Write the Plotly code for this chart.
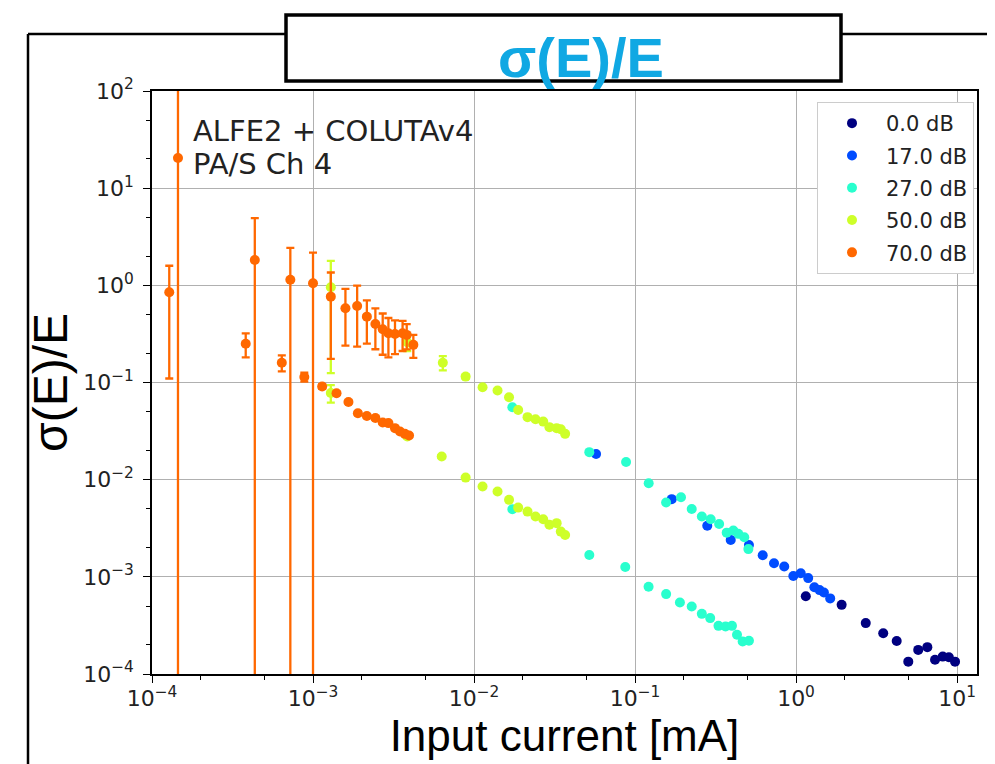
import plotly.graph_objects as go

# ---------------- data ----------------
gains = ["0.0 dB", "17.0 dB", "27.0 dB", "50.0 dB", "70.0 dB"]
colors = ["#000080", "#004cff", "#29ffce", "#ceff29", "#ff6800"]

x_0db = [1.15, 1.92, 2.71, 3.48, 4.22, 4.98, 5.74, 6.54, 7.3, 8.15, 8.9, 9.72]
y_0db = [0.00063, 0.000515, 0.000334, 0.000263, 0.000219, 0.000134, 0.000177,
         0.000189, 0.00014, 0.000151, 0.000149, 0.000134]
e_0db = [0.0] * 12

x_17db = [0.0573, 0.169, 0.281, 0.393, 0.51, 0.621, 0.73, 0.845, 0.962, 1.07,
          1.19, 1.30, 1.40, 1.49, 1.63]
y_17db = [0.0184, 0.0063, 0.00335, 0.0024, 0.00213, 0.00167, 0.00138, 0.00128,
          0.00102, 0.00109, 0.00097, 0.00078, 0.00073, 0.00069, 0.0006]
e_17db = [0.0] * 15

x_27db = [0.0173, 0.0173, 0.052, 0.052, 0.088, 0.087, 0.1216, 0.1214, 0.156, 0.156,
          0.193, 0.19, 0.225, 0.225, 0.26, 0.26, 0.295, 0.293, 0.333, 0.33,
          0.371, 0.365, 0.408, 0.40, 0.438, 0.43, 0.477, 0.466, 0.506, 0.51]
y_27db = [0.0557, 0.00497, 0.0192, 0.00168, 0.0152, 0.00126, 0.0092, 0.00079, 0.00582, 0.000664,
          0.0066, 0.000545, 0.005, 0.000495, 0.00417, 0.000416, 0.00392, 0.000376, 0.0035, 0.000313,
          0.00285, 0.000308, 0.003, 0.000313, 0.00277, 0.000253, 0.00256, 0.000216, 0.00193, 0.00022]
e_27db = [0.0] * 30

x_50db = [0.00129, 0.00129, 0.00385, 0.00385, 0.0064, 0.0063, 0.00887, 0.00887, 0.0113, 0.0113,
          0.014, 0.014, 0.0165, 0.0165, 0.0188, 0.0188, 0.0215, 0.0215, 0.0241, 0.0241,
          0.0269, 0.0269, 0.0294, 0.0294, 0.0326, 0.0326, 0.0346, 0.0346, 0.0368, 0.0368]
y_50db = [0.955, 0.078, 0.26, 0.0278, 0.16, 0.0173, 0.115, 0.0105, 0.0895, 0.0085,
          0.0826, 0.00755, 0.0706, 0.0062, 0.0522, 0.00516, 0.044, 0.00469, 0.0419, 0.00417,
          0.0396, 0.00392, 0.0347, 0.00343, 0.0339, 0.00357, 0.033, 0.00292, 0.0296, 0.0027]
e_50db = [0.83, 0.016, 0.05, 0.001, 0.027, 0.0005, 0.006, 0.0, 0.0, 0.0,
          0.0, 0.0, 0.0, 0.0, 0.0, 0.0, 0.0, 0.0, 0.0, 0.0,
          0.0, 0.0, 0.0, 0.0, 0.0, 0.0, 0.0, 0.0, 0.0, 0.0]

x_70db = [0.000128, 0.000145, 0.000382, 0.000435, 0.00064, 0.000723, 0.000883, 0.0010,
          0.00114, 0.00129, 0.0014, 0.00159, 0.00166, 0.00188, 0.0019, 0.00216, 0.00216,
          0.00244, 0.00244, 0.00271, 0.00271, 0.00294, 0.00294, 0.00323, 0.00323,
          0.0036, 0.00347, 0.00382, 0.00372, 0.0042, 0.00395]
y_70db = [0.85, 20.4, 0.251, 1.82, 0.16, 1.14, 0.114, 1.05,
          0.091, 0.765, 0.0776, 0.58, 0.063, 0.614, 0.0483, 0.476, 0.0453,
          0.40, 0.0432, 0.353, 0.0387, 0.321, 0.0382, 0.316, 0.0339,
          0.321, 0.0313, 0.309, 0.0296, 0.244, 0.0285]
e_70db = [0.74, 150.0, 0.07, 3.1, 0.03, 1.29, 0.012, 1.12,
          0.005, 0.59, 0.003, 0.34, 0.002, 0.38, 0.002, 0.225, 0.002,
          0.18, 0.002, 0.16, 0.001, 0.14, 0.001, 0.12, 0.001,
          0.11, 0.001, 0.09, 0.001, 0.065, 0.001]

series_x = [x_0db, x_17db, x_27db, x_50db, x_70db]
series_y = [y_0db, y_17db, y_27db, y_50db, y_70db]
series_e = [e_0db, e_17db, e_27db, e_50db, e_70db]

x_tickvals = [1e-4, 1e-3, 1e-2, 1e-1, 1e0, 1e1]
y_tickvals = [1e-4, 1e-3, 1e-2, 1e-1, 1e0, 1e1, 1e2]
x_ticktext = ["10<sup>−4</sup>", "10<sup>−3</sup>", "10<sup>−2</sup>", "10<sup>−1</sup>", "10<sup>0</sup>", "10<sup>1</sup>"]
y_ticktext = ["10<sup>−4</sup>", "10<sup>−3</sup>", "10<sup>−2</sup>", "10<sup>−1</sup>", "10<sup>0</sup>", "10<sup>1</sup>", "10<sup>2</sup>"]

# ---------------- figure ----------------
fig = go.Figure()
for i, name in enumerate(gains):
    fig.add_trace(go.Scatter(
        x=series_x[i], y=series_y[i], mode="markers", name=name,
        legendgroup=name,
        marker=dict(color=colors[i], size=10, line=dict(width=0)),
        error_y=dict(type="data", array=series_e[i], visible=True,
                     color=colors[i], thickness=2.3, width=4),
    ))

OFF = 8  # page body margin
W, H = 995 - OFF, 764 - OFF
L, R, T, B = 152 - OFF, 18, 91 - OFF, 90
pw, ph = W - L - R, H - T - B


def px(x):  # page pixel -> paper x
    return (x - OFF - L) / pw


def py(y):  # page pixel -> paper y
    return (H - B - (y - OFF)) / ph


shapes = [
    # slide frame
    dict(type="line", xref="paper", yref="paper", x0=px(28), x1=px(28), y0=py(34), y1=py(780),
         line=dict(color="black", width=2.5)),
    dict(type="line", xref="paper", yref="paper", x0=px(28), x1=px(285), y0=py(34), y1=py(34),
         line=dict(color="black", width=2.5)),
    dict(type="line", xref="paper", yref="paper", x0=px(841), x1=px(1010), y0=py(34), y1=py(34),
         line=dict(color="black", width=2.5)),
    # title box
    dict(type="rect", xref="paper", yref="paper", x0=px(286), x1=px(841), y0=py(15), y1=py(81),
         line=dict(color="black", width=3.5), fillcolor="white"),
]

axis_common = dict(
    type="log", showline=True, mirror=True, linecolor="black", linewidth=1.5,
    ticks="outside", ticklen=7, tickwidth=1.3, tickcolor="black",
    showgrid=True, gridcolor="#b0b0b0", gridwidth=1.3, zeroline=False,
    tickfont=dict(family="DejaVu Sans", size=22, color="#222222"),
    minor=dict(ticks="outside", ticklen=4, tickwidth=1, tickcolor="black", showgrid=False),
    tickmode="array",
)

fig.update_layout(
    width=W, height=H,
    margin=dict(l=L, r=R, t=T, b=B, pad=0),
    paper_bgcolor="white", plot_bgcolor="white",
    title=dict(text="σ(E)/E", x=(581 - OFF) / W, xanchor="center", y=1 - (57 - OFF) / H,
               yanchor="middle",
               font=dict(family="Liberation Sans", size=56, color="#10a8e3", weight="bold")),
    xaxis=dict(axis_common, range=[-4, 1.124], tickvals=x_tickvals, ticktext=x_ticktext,
               ticklabelstandoff=-3,
               title=dict(text="Input current [mA]", standoff=9,
                          font=dict(family="Liberation Sans", size=44, color="black"))),
    yaxis=dict(axis_common, range=[-4, 2], tickvals=y_tickvals, ticktext=y_ticktext,
               ticklabelstandoff=5,
               title=dict(text="σ(E)/E", standoff=0,
                          font=dict(family="Liberation Sans", size=48, color="black"))),
    showlegend=True,
    legend=dict(x=px(974), xanchor="right", y=py(102), yanchor="top",
                bgcolor="white", bordercolor="#cccccc", borderwidth=1,
                font=dict(family="DejaVu Sans", size=21, color="#222222"),
                tracegroupgap=2, itemwidth=58),
    shapes=shapes,
    annotations=[
        dict(text="ALFE2 + COLUTAv4", xref="paper", yref="paper",
             x=px(191), y=py(131), xanchor="left", yanchor="middle", align="left",
             showarrow=False, font=dict(family="DejaVu Sans", size=29, color="#222222")),
        dict(text="PA/S Ch 4", xref="paper", yref="paper",
             x=px(191), y=py(164), xanchor="left", yanchor="middle", align="left",
             showarrow=False, font=dict(family="DejaVu Sans", size=29, color="#222222")),
    ],
)

fig.write_html("out.html")
